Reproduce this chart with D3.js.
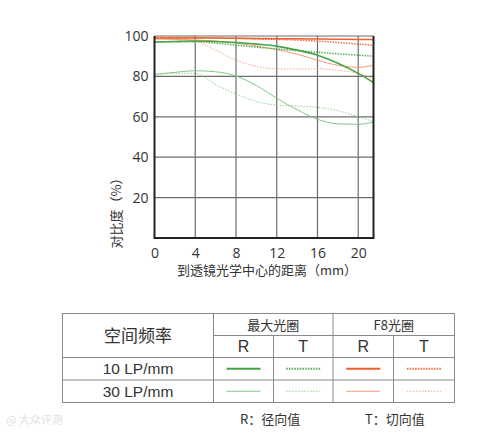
<!DOCTYPE html>
<html>
<head>
<meta charset="utf-8">
<script src="https://cdn.jsdelivr.net/npm/d3@7"></script>
<style>
  body { margin: 0; background: #fff; }
  svg { display: block; }
  text { font-family: "Open Sans", "Noto Sans CJK SC", sans-serif; fill: #333; }
  .cjk { font-family: "Noto Sans CJK SC", sans-serif; }
  .arial { font-family: "Liberation Sans", Arial, sans-serif; }
</style>
</head>
<body>
<div id="chart"></div>
<script>
// Data
var distances = [0, 2, 4, 6, 8, 10, 12, 14, 16, 18, 20, 21.5];
var xTicks = [0, 4, 8, 12, 16, 20];
var yTicks = [20, 40, 60, 80, 100];

var open10R = [97, 97.3, 97.5, 97.3, 96.8, 96, 95, 93, 90.5, 86.5, 81.5, 77];
var open10T = [97, 97.2, 97.2, 96.5, 95.5, 94.5, 93.6, 92.8, 92, 91.2, 90.5, 90];
var open30R = [81, 82, 82.8, 82.3, 80.2, 75.5, 69.2, 63.5, 58.8, 56.5, 56.3, 57.5];
var open30T = [81, 81.5, 81.5, 76, 71.3, 67.5, 65.8, 65.3, 64.7, 63, 60, 57.6];
var f8_10R = [99, 99, 99, 99, 98.9, 98.8, 98.7, 98.6, 98.5, 98.4, 98.3, 98.2];
var f8_10T = [99.3, 99.3, 99.2, 99, 98.8, 98.5, 98.3, 98, 97.5, 96.8, 96, 95.3];
var f8_30R = [98.5, 98.3, 98, 97.5, 96.5, 95, 93.3, 91, 88, 85.5, 84.5, 85.5];
var f8_30T = [99, 98.7, 97.5, 93, 88, 85, 83.7, 83.6, 83.8, 83, 81.5, 79];

var apertures = ["最大光圈", "F8光圈"];
var frequencies = ["10 LP/mm", "30 LP/mm"];

var green = "#45a545", greenLight = "#86c786";
var orange = "#ef5f2c", orangeLight = "#f39a7a";

// draw order: thin first, thick on top
var series = [
  {values: open30T, color: greenLight, width: 1, dash: "1.5,1.5", op: 0.85},
  {values: open30R, color: greenLight, width: 1, dash: null, op: 1},
  {values: f8_30T, color: orangeLight, width: 1, dash: "1.5,1.5", op: 0.85},
  {values: f8_30R, color: orangeLight, width: 1, dash: null, op: 1},
  {values: open10T, color: green, width: 1.5, dash: "1.5,1.2", op: 0.9},
  {values: f8_10T, color: orange, width: 1.5, dash: "1.5,1.2", op: 0.9},
  {values: f8_10R, color: orange, width: 1.5, dash: null, op: 1},
  {values: open10R, color: green, width: 1.6, dash: null, op: 1}
];

var W = 490, H = 434;
var svg = d3.select("#chart").append("svg").attr("width", W).attr("height", H);

var x = d3.scaleLinear().domain([0, 21.5]).range([154.5, 373.5]);
var y = d3.scaleLinear().domain([0, 100]).range([238, 36]);

var g = svg.append("g");

// grid
g.selectAll(".vgrid").data(xTicks.slice(1)).enter().append("line")
  .attr("x1", function(d) { return x(d); }).attr("x2", function(d) { return x(d); })
  .attr("y1", y(100)).attr("y2", y(0))
  .attr("stroke", "#6e6e6e").attr("stroke-width", 1.2);
g.selectAll(".hgrid").data(yTicks).enter().append("line")
  .attr("x1", x(0)).attr("x2", x(21.5))
  .attr("y1", function(d) { return y(d); }).attr("y2", function(d) { return y(d); })
  .attr("stroke", "#6e6e6e").attr("stroke-width", 1.2);

// lines
var line = d3.line()
  .x(function(d, i) { return x(distances[i]); })
  .y(function(d) { return y(d); })
  .curve(d3.curveMonotoneX);

g.selectAll(".mtf").data(series).enter().append("path")
  .attr("fill", "none")
  .attr("d", function(d) { return line(d.values); })
  .attr("stroke", function(d) { return d.color; })
  .attr("stroke-width", function(d) { return d.width; })
  .attr("stroke-opacity", function(d) { return d.op; })
  .attr("stroke-dasharray", function(d) { return d.dash; });

// frame (left, bottom, right)
g.append("path")
  .attr("d", "M" + x(0) + "," + y(100) + "V" + y(0) + "H" + x(21.5) + "V" + y(100))
  .attr("fill", "none").attr("stroke", "#222").attr("stroke-width", 2);

// axes labels
var xAxis = d3.axisBottom(x).tickValues(xTicks).tickSize(0).tickPadding(10);
svg.append("g").attr("transform", "translate(0," + y(0) + ")").call(xAxis)
  .call(function(s) { s.select(".domain").remove(); })
  .selectAll("text").style("font-size", "14px").attr("fill", "#333");

var yAxis = d3.axisLeft(y).tickValues(yTicks).tickSize(0).tickPadding(6);
svg.append("g").attr("transform", "translate(" + x(0) + ",0)").call(yAxis)
  .call(function(s) { s.select(".domain").remove(); })
  .selectAll("text").style("font-size", "14px").attr("fill", "#333");

svg.selectAll(".tick text").style("font-family", "'Open Sans', sans-serif");

svg.append("text").attr("class", "cjk")
  .attr("transform", "translate(121,210) rotate(-90)")
  .attr("text-anchor", "middle").style("font-size", "13px")
  .text("对比度（%）");

svg.append("text").attr("class", "cjk")
  .attr("x", 267).attr("y", 275)
  .attr("text-anchor", "middle").style("font-size", "13px")
  .text("到透镜光学中心的距离（mm）");

// legend table
var tb = svg.append("g");
var tL = 62.5, tR = 454.5, tT = 313.5, tB = 402.5;
var c1 = 213.5, cMid = 333, cR1 = 273.5, cR2 = 393.5;
var r1 = 335.5, r2 = 357.5, r3 = 380;
var border = "#8a8a8a";

function hl(x1, x2, yy) { tb.append("line").attr("x1", x1).attr("x2", x2).attr("y1", yy).attr("y2", yy).attr("stroke", border); }
function vl(xx, y1, y2) { tb.append("line").attr("x1", xx).attr("x2", xx).attr("y1", y1).attr("y2", y2).attr("stroke", border); }

tb.append("rect").attr("x", tL).attr("y", tT).attr("width", tR - tL).attr("height", tB - tT)
  .attr("fill", "none").attr("stroke", border);
hl(c1, tR, r1); hl(tL, tR, r2); hl(tL, tR, r3);
vl(c1, tT, tB); vl(cMid, tT, tB); vl(cR1, r1, tB); vl(cR2, r1, tB);

tb.append("text").attr("class", "cjk").attr("x", (tL + c1) / 2).attr("y", (tT + r2) / 2 + 6)
  .attr("text-anchor", "middle").style("font-size", "17px").text("空间频率");

var apCenters = [(c1 + cMid) / 2, (cMid + tR) / 2];
tb.selectAll(".ap").data(apertures).enter().append("text").attr("class", "cjk")
  .attr("x", function(d, i) { return apCenters[i]; }).attr("y", (tT + r1) / 2 + 5)
  .attr("text-anchor", "middle").style("font-size", "13px").text(function(d) { return d; });

var colL = [c1, cR1, cMid, cR2], colR = [cR1, cMid, cR2, tR];
var rtLabels = ["R", "T", "R", "T"];
tb.selectAll(".rt").data(rtLabels).enter().append("text").attr("class", "arial")
  .attr("x", function(d, i) { return (colL[i] + colR[i]) / 2; }).attr("y", (r1 + r2) / 2 + 5.5)
  .attr("text-anchor", "middle").style("font-size", "16px").text(function(d) { return d; });

var rowT = [r2, r3], rowB = [r3, tB];
tb.selectAll(".freq").data(frequencies).enter().append("text").attr("class", "arial")
  .attr("x", (tL + c1) / 2).attr("y", function(d, i) { return (rowT[i] + rowB[i]) / 2 + 5.5; })
  .attr("text-anchor", "middle").style("font-size", "15.5px").text(function(d) { return d; });

// legend samples: row 0 = 10 LP/mm, row 1 = 30 LP/mm
var legendSeries = [
  [series[7], series[4], series[6], series[5]],
  [series[1], series[0], series[3], series[2]]
];
legendSeries.forEach(function(row, ri) {
  row.forEach(function(s, ci) {
    var cx = (colL[ci] + colR[ci]) / 2;
    tb.append("line")
      .attr("x1", cx - 17).attr("x2", cx + 17)
      .attr("y1", (rowT[ri] + rowB[ri]) / 2).attr("y2", (rowT[ri] + rowB[ri]) / 2)
      .attr("stroke", s.color).attr("stroke-width", ri === 0 ? 2 : 1)
      .attr("stroke-opacity", s.op)
      .attr("stroke-dasharray", s.dash);
  });
});

svg.append("text").attr("class", "cjk").attr("x", 240).attr("y", 424)
  .style("font-size", "13px").text("R：径向值");
svg.append("text").attr("class", "cjk").attr("x", 365).attr("y", 424)
  .style("font-size", "13px").text("T：切向值");

// faint watermark
svg.append("text").attr("class", "cjk").attr("x", 6).attr("y", 424)
  .style("font-size", "11px").style("fill", "#e2e2e2")
  .text("@ 大众评测");
</script>
</body>
</html>
